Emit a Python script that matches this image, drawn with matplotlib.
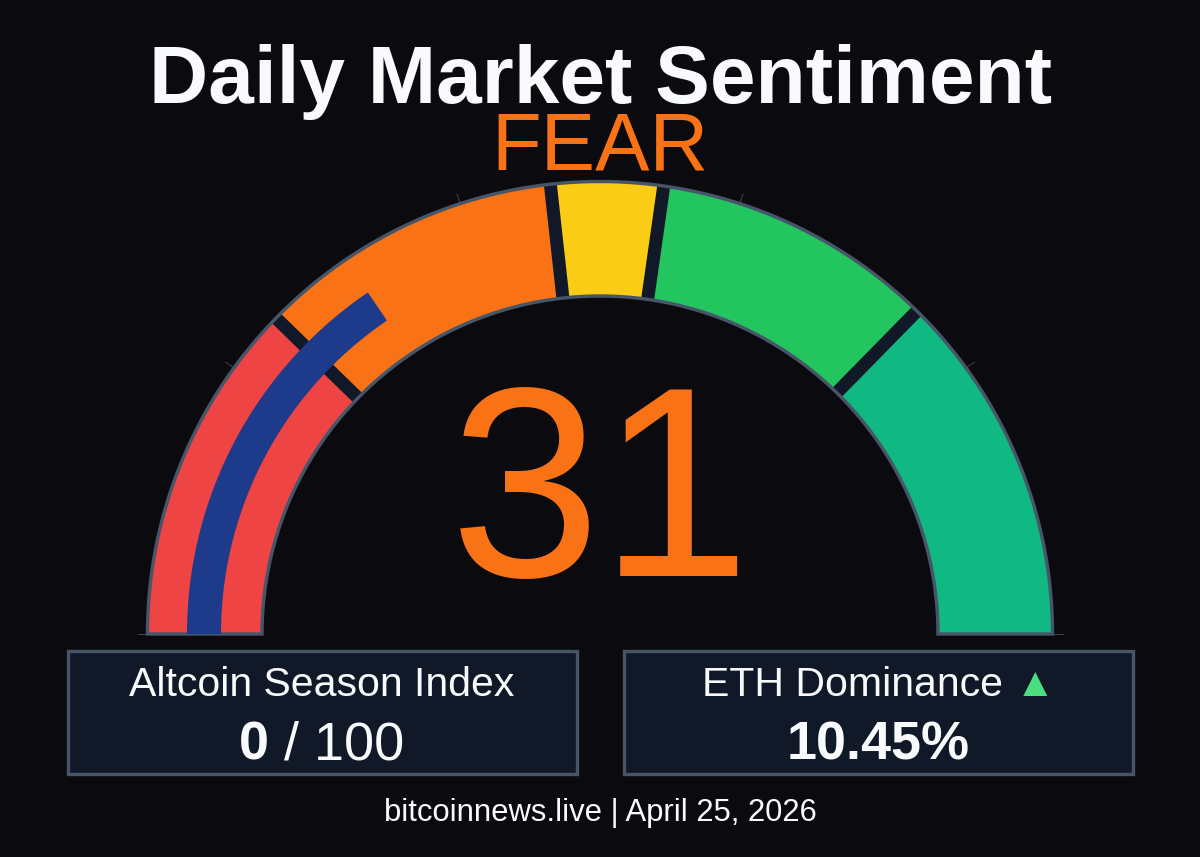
import numpy as np
import matplotlib
matplotlib.use("Agg")
import matplotlib.pyplot as plt
from matplotlib.patches import Rectangle

# data
band_edges = [0, 24.6, 46.5, 54.5, 74.7, 100]
band_colors = ["#ef4444", "#f97316", "#facc15", "#22c55e", "#10b981"]
gauge_value = 31
tick_values = [0, 20, 40, 60, 80, 100]
title_text = "Daily Market Sentiment"
state_text = "FEAR"
altcoin_label = "Altcoin Season Index"
altcoin_value = "0"
altcoin_max = " / 100"
eth_label = "ETH Dominance"
eth_value = "10.45%"
footer_text = "bitcoinnews.live | April 25, 2026"

BG = "#0a0a0f"
BORDER = "#475569"
SEP = "#111827"
BLUE = "#1e3a8a"
ORANGE = "#f97316"
WHITE = "#f8fafc"
UP = "#4ade80"

plt.rcParams["font.family"] = ["Liberation Sans", "DejaVu Sans"]
W, H = 1200, 857
fig = plt.figure(figsize=(12, 8.57), dpi=100, facecolor=BG)
ax = fig.add_axes([0, 0, 1, 1])
ax.set_xlim(0, W); ax.set_ylim(H, 0)
ax.axis("off")
px = 0.72  # points per pixel

cx, cy, r_out, r_in = 600, 634, 452.5, 338
r_bar_out, r_bar_in = 413, 379

def ang(v):
    return np.pi * (1 - v / 100)

def ring(v0, v1, ro, ri, **kw):
    t = np.linspace(ang(v0), ang(v1), 200)
    xs = np.r_[cx + ro * np.cos(t), cx + ri * np.cos(t[::-1])]
    ys = np.r_[cy - ro * np.sin(t), cy - ri * np.sin(t[::-1])]
    ax.fill(xs, ys, **kw)

for v0, v1, c in zip(band_edges[:-1], band_edges[1:], band_colors):
    ring(v0, v1, r_out, r_in, facecolor=c, edgecolor="none", zorder=2)

for v in band_edges[1:-1]:
    a = ang(v)
    ax.plot([cx + r_in * np.cos(a), cx + r_out * np.cos(a)],
            [cy - r_in * np.sin(a), cy - r_out * np.sin(a)],
            color=SEP, lw=13 * px, solid_capstyle="butt", zorder=3)

ring(0, 100, r_out, r_in, facecolor="none", edgecolor=BORDER,
     linewidth=3.4 * px, joinstyle="miter", zorder=4)

ring(0, gauge_value, r_bar_out, r_bar_in, facecolor=BLUE, edgecolor="none", zorder=5)

for v in tick_values:
    a = ang(v)
    ax.plot([cx + r_out * np.cos(a), cx + (r_out + 10) * np.cos(a)],
            [cy - r_out * np.sin(a), cy - (r_out + 10) * np.sin(a)],
            color="#444444", lw=1 * px, zorder=1)

# boxes
for x0 in (67.5, 623.5):
    ax.add_patch(Rectangle((x0, 651), 509, 123, facecolor=SEP, edgecolor=BORDER,
                           linewidth=3.4 * px, zorder=2))

def T(x, y, s, size, color=WHITE, weight="normal", ha="center"):
    return ax.text(x, y, s, fontsize=size * px, color=color, fontweight=weight,
                   ha=ha, va="baseline", zorder=6)

T(600.5, 102.5, title_text, 82, weight="bold")
T(600.5, 169, state_text, 81.5, color=ORANGE)
T(600, 576, str(gauge_value), 271, color=ORANGE)

T(322, 695.5, altcoin_label, 41)
T(239, 759, altcoin_value, 54, weight="bold", ha="left")
T(269, 759, altcoin_max, 54, ha="left")

T(702, 695.5, eth_label, 41, ha="left")
T(1035, 695.5, "\u25b2", 41, color=UP)
T(878, 759, eth_value, 54, weight="bold")

T(600, 821, footer_text, 31)

fig.savefig("out.png", dpi=100, facecolor=BG)
